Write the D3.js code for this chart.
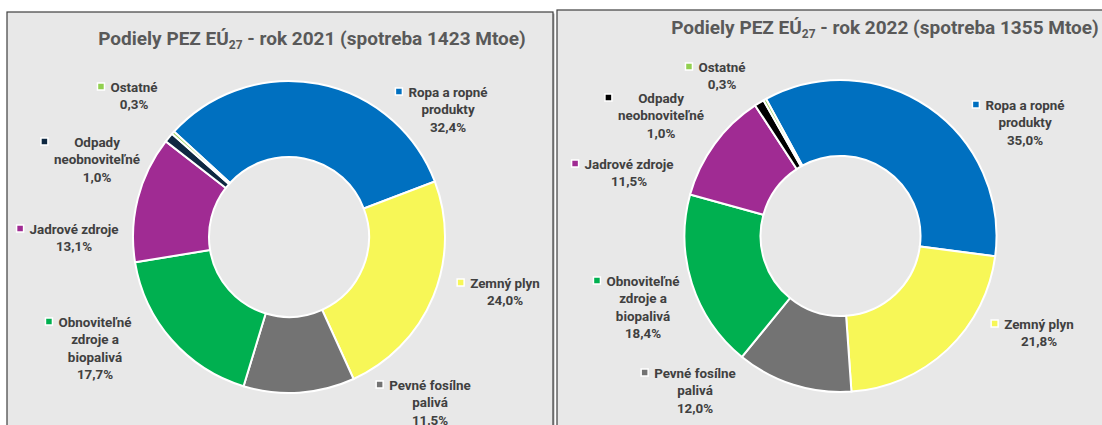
<!DOCTYPE html>
<html>
<head>
<meta charset="utf-8">
<script src="https://cdn.jsdelivr.net/npm/d3@7"></script>
<style>
    body { margin: 0; background: #ffffff; }
    svg text { font-family: Roboto, "Noto Sans", sans-serif; font-weight: 700; }
    .lbl { fill: #404040; font-size: 13.4px; }
    .title { fill: #595959; font-size: 19px; }
</style>
</head>
<body>
<div id="chart"></div>
<script>

// data
const categories = ["Ropa a ropné produkty", "Zemný plyn", "Pevné fosílne palivá", "Obnoviteľné zdroje a biopalivá", "Jadrové zdroje", "Odpady neobnoviteľné", "Ostatné"];
const labelLines = [["Ropa a ropné", "produkty"], ["Zemný plyn"], ["Pevné fosílne", "palivá"], ["Obnoviteľné", "zdroje a", "biopalivá"], ["Jadrové zdroje"], ["Odpady", "neobnoviteľné"], ["Ostatné"]];
const years = [2021, 2022];
const consumption = [1423, 1355];
const shares2021 = [32.4, 24.0, 11.5, 17.7, 13.1, 1.0, 0.3];
const shares2022 = [35.0, 21.8, 12.0, 18.4, 11.5, 1.0, 0.3];

// styles
const colors2021 = ["#0070c0", "#f7f757", "#737373", "#00b050", "#a02b93", "#0e2841", "#92d050"];
const colors2022 = ["#0070c0", "#f7f757", "#737373", "#00b050", "#a02b93", "#000000", "#92d050"];

// layout: label anchors relative to donut center
const labelPos2021 = [[159, -145], [216, 46], [141, 148], [-194, 85], [-215, -8], [-192, -95], [-155, -150]];
const labelPos2022 = [[184.5, -131], [198.5, 88], [-145.5, 137], [-197.5, 45], [-211.5, -72], [-179.5, -138], [-118.5, -169]];

const W = 1102, H = 425;
const svg = d3.select("#chart").append("svg")
    .attr("width", W)
    .attr("height", H);

const panels = [
    { x: 7, y: 12, w: 546, h: 440, cx: 289, cy: 237, titleX: 312, titleY: 38, start: -47.5, shares: shares2021, colors: colors2021, pos: labelPos2021 },
    { x: 557, y: 10, w: 560, h: 440, cx: 840.5, cy: 236, titleX: 885, titleY: 27, start: -28.5, shares: shares2022, colors: colors2022, pos: labelPos2022 }
];

let pctFormat = d3.format(".1f");
const lineH = 17.5;

panels.forEach((p, pi) => {

    svg.append("rect")
        .attr("x", p.x + 1.5).attr("y", p.y + 1.5)
        .attr("width", p.w).attr("height", p.h)
        .attr("fill", "#b0b0b0");

    svg.append("rect")
        .attr("x", p.x).attr("y", p.y)
        .attr("width", p.w).attr("height", p.h)
        .attr("fill", "#e8e8e8")
        .attr("stroke", "#3f3f3f")
        .attr("stroke-width", 1.2);

    // title
    let t = svg.append("text")
        .attr("class", "title")
        .attr("x", p.titleX)
        .attr("y", p.titleY)
        .attr("dy", "0.35em")
        .attr("text-anchor", "middle");
    t.append("tspan").text("Podiely PEZ EÚ");
    t.append("tspan").attr("font-size", "12px").attr("dy", "4.5").text("27");
    t.append("tspan").attr("dy", "-4.5").text(`  - rok ${years[pi]} (spotreba ${consumption[pi]} Mtoe)`);

    const g = svg.append("g")
        .attr("transform", `translate(${p.cx},${p.cy})`);

    const a0 = p.start * Math.PI / 180;
    const pie = d3.pie()
        .sort(null)
        .startAngle(a0)
        .endAngle(a0 + 2 * Math.PI)
        .value(d => d);

    const arc = d3.arc()
        .innerRadius(80)
        .outerRadius(156);

    g.selectAll(".slice")
        .data(pie(p.shares))
        .enter().append("path")
        .attr("class", "slice")
        .attr("d", arc)
        .attr("fill", (d, i) => p.colors[i])
        .attr("stroke", "#ffffff")
        .attr("stroke-width", 2);

    // labels
    p.shares.forEach((v, i) => {
        const lines = labelLines[i].concat([pctFormat(v).replace(".", ",") + "%"]);
        const lg = g.append("g")
            .attr("transform", `translate(${p.pos[i][0]},${p.pos[i][1]})`);
        let maxW = 0;
        lines.forEach((ln, k) => {
            let tx = lg.append("text")
                .attr("class", "lbl")
                .attr("x", 0)
                .attr("y", k * lineH)
                .attr("dy", "0.35em")
                .attr("text-anchor", "middle")
                .text(ln);
            maxW = Math.max(maxW, tx.node().getComputedTextLength());
        });
        lg.append("rect")
            .attr("x", -maxW / 2 - 13)
            .attr("y", -4)
            .attr("width", 7)
            .attr("height", 7)
            .attr("fill", p.colors[i])
            .attr("stroke", "#ffffff")
            .attr("stroke-width", 1.5);
    });
});

</script>
</body>
</html>
